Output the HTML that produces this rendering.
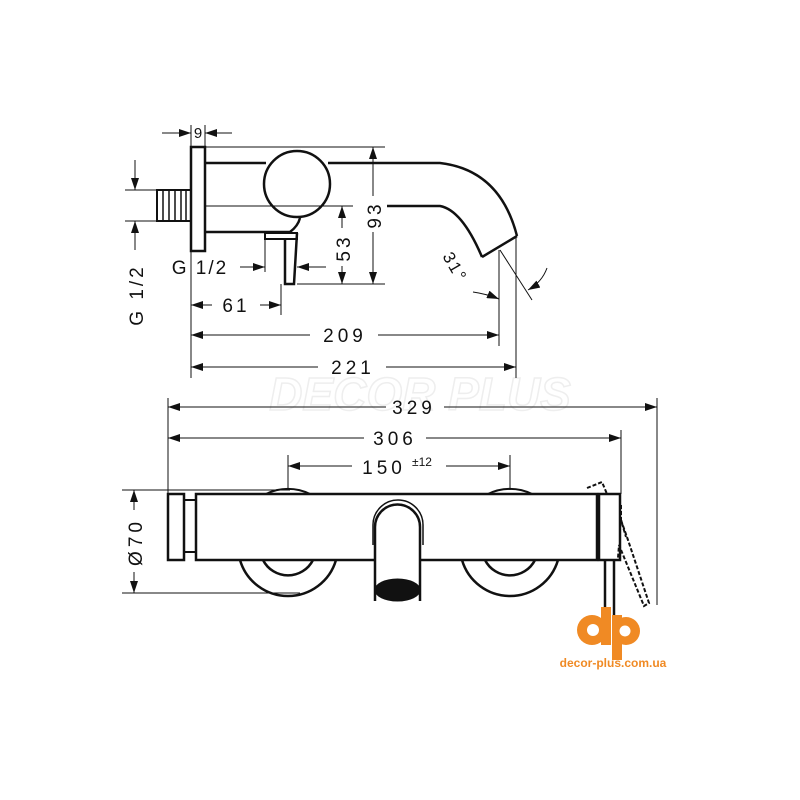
<!DOCTYPE html>
<html><head><meta charset="utf-8"><style>
html,body{margin:0;padding:0;background:#fff;}
svg{display:block;}
text{font-family:"Liberation Sans",sans-serif;fill:#111;}
</style></head><body>
<svg width="800" height="800" viewBox="0 0 800 800" xmlns="http://www.w3.org/2000/svg">
<defs>
<marker id="a" markerWidth="12" markerHeight="8" refX="12" refY="4" orient="auto" markerUnits="userSpaceOnUse"><path d="M0,0 L12,4 L0,8 Z" fill="#111"/></marker>
</defs>
<rect width="800" height="800" fill="#fff"/>
<text x="420" y="410" font-size="46" font-weight="bold" text-anchor="middle" stroke="#eee" stroke-width="1.5" style="fill:none" font-style="italic">DECOR PLUS</text>
<g stroke="#111" fill="none">
<!-- TOP VIEW -->
<rect x="191" y="147" width="14" height="104" stroke-width="2.5"/>
<rect x="157" y="190" width="34" height="31" stroke-width="2"/>
<g stroke-width="1.5"><line x1="163" y1="190" x2="163" y2="221"/><line x1="169" y1="190" x2="169" y2="221"/><line x1="175" y1="190" x2="175" y2="221"/><line x1="181" y1="190" x2="181" y2="221"/><line x1="186" y1="190" x2="186" y2="221"/></g>
<line x1="205" y1="163" x2="266" y2="163" stroke-width="2.5"/>
<path d="M328,163 L440,163 Q500,170 517,236" stroke-width="2.5"/>
<path d="M387,206 L440,206 Q462,210 482,257" stroke-width="2.5"/>
<line x1="482" y1="257" x2="517" y2="236" stroke-width="2.5"/>
<line x1="205" y1="232" x2="290" y2="232" stroke-width="2.5"/>
<line x1="205" y1="206" x2="353" y2="206" stroke-width="1"/>
<circle cx="297" cy="184" r="33" stroke-width="2.5"/>
<path d="M290,232 Q298,226 300,218" stroke-width="2.5"/>
<rect x="265" y="233" width="32" height="6" stroke-width="2"/>
<path d="M285,239 L285,284 L294,284 L297,233" stroke-width="2.5"/>
<line x1="162" y1="133" x2="191" y2="133" stroke-width="1" marker-end="url(#a)"/>
<line x1="232" y1="133" x2="205" y2="133" stroke-width="1" marker-end="url(#a)"/>
<line x1="191" y1="125" x2="191" y2="147" stroke-width="1"/>
<line x1="205" y1="125" x2="205" y2="147" stroke-width="1"/>
<line x1="205" y1="147" x2="385" y2="147" stroke-width="1"/>
<line x1="297" y1="284" x2="385" y2="284" stroke-width="1"/>
<line x1="373" y1="196" x2="373" y2="147" stroke-width="1" marker-end="url(#a)"/>
<line x1="373" y1="232" x2="373" y2="284" stroke-width="1" marker-end="url(#a)"/>
<line x1="342" y1="228" x2="342" y2="206" stroke-width="1" marker-end="url(#a)"/>
<line x1="342" y1="266" x2="342" y2="284" stroke-width="1" marker-end="url(#a)"/>
<line x1="135" y1="160" x2="135" y2="190" stroke-width="1" marker-end="url(#a)"/>
<line x1="135" y1="250" x2="135" y2="221" stroke-width="1" marker-end="url(#a)"/>
<line x1="125" y1="190" x2="157" y2="190" stroke-width="1"/>
<line x1="125" y1="221" x2="157" y2="221" stroke-width="1"/>
<line x1="240" y1="267" x2="265" y2="267" stroke-width="1" marker-end="url(#a)"/>
<line x1="326" y1="267" x2="297" y2="267" stroke-width="1" marker-end="url(#a)"/>
<line x1="265" y1="239" x2="265" y2="272" stroke-width="1"/>
<line x1="191" y1="251" x2="191" y2="378" stroke-width="1"/>
<line x1="281" y1="284" x2="281" y2="315" stroke-width="1"/>
<line x1="499" y1="250" x2="499" y2="346" stroke-width="1"/>
<line x1="516" y1="236" x2="516" y2="378" stroke-width="1"/>
<line x1="212" y1="305" x2="191" y2="305" stroke-width="1" marker-end="url(#a)"/>
<line x1="260" y1="305" x2="281" y2="305" stroke-width="1" marker-end="url(#a)"/>
<line x1="310" y1="335" x2="191" y2="335" stroke-width="1" marker-end="url(#a)"/>
<line x1="378" y1="335" x2="499" y2="335" stroke-width="1" marker-end="url(#a)"/>
<line x1="318" y1="367" x2="191" y2="367" stroke-width="1" marker-end="url(#a)"/>
<line x1="386" y1="367" x2="516" y2="367" stroke-width="1" marker-end="url(#a)"/>
<line x1="500" y1="250" x2="532" y2="300" stroke-width="1"/>
<path d="M473,292 Q487,294 499,299" stroke-width="1" marker-end="url(#a)"/>
<path d="M547,268 Q542,282 528,290" stroke-width="1" marker-end="url(#a)"/>

<!-- BOTTOM VIEW -->
<line x1="168" y1="398" x2="168" y2="494" stroke-width="1"/>
<line x1="657" y1="398" x2="657" y2="605" stroke-width="1"/>
<line x1="621" y1="430" x2="621" y2="494" stroke-width="1"/>
<line x1="288" y1="455" x2="288" y2="490" stroke-width="1"/>
<line x1="510" y1="455" x2="510" y2="490" stroke-width="1"/>
<line x1="386" y1="407" x2="168" y2="407" stroke-width="1" marker-end="url(#a)"/>
<line x1="444" y1="407" x2="657" y2="407" stroke-width="1" marker-end="url(#a)"/>
<line x1="364" y1="438" x2="168" y2="438" stroke-width="1" marker-end="url(#a)"/>
<line x1="426" y1="438" x2="621" y2="438" stroke-width="1" marker-end="url(#a)"/>
<line x1="352" y1="466" x2="288" y2="466" stroke-width="1" marker-end="url(#a)"/>
<line x1="446" y1="466" x2="510" y2="466" stroke-width="1" marker-end="url(#a)"/>
<line x1="122" y1="490" x2="290" y2="490" stroke-width="1"/>
<line x1="122" y1="593" x2="300" y2="593" stroke-width="1"/>
<line x1="134" y1="510" x2="134" y2="490" stroke-width="1" marker-end="url(#a)"/>
<line x1="134" y1="572" x2="134" y2="593" stroke-width="1" marker-end="url(#a)"/>
<path d="M266,494 A50,50 0 0 1 310,494" stroke-width="2"/>
<path d="M488,494 A50,50 0 0 1 532,494" stroke-width="2"/>
<path d="M240,560 A50,50 0 0 0 336,560" stroke-width="2.5"/>
<path d="M462,560 A50,50 0 0 0 558,560" stroke-width="2.5"/>
<path d="M263,560 A28,28 0 0 0 313,560" stroke-width="2.5"/>
<path d="M485,560 A28,28 0 0 0 535,560" stroke-width="2.5"/>
<rect x="168" y="494" width="16" height="66" stroke-width="2.5" fill="#fff"/>
<rect x="184" y="500" width="12" height="52" stroke-width="2"/>
<rect x="196" y="494" width="401" height="66" stroke-width="2.5" fill="#fff"/>
<rect x="599" y="494" width="21" height="66" stroke-width="2.5"/>
<path d="M375,601 L375,527 A22.5,22.5 0 0 1 420,527 L420,601" stroke-width="2.5" fill="#fff"/>
<path d="M373,545 L373,525 A25,25 0 0 1 423,525 L423,545" stroke-width="1.5"/>
<ellipse cx="397.5" cy="590" rx="22.5" ry="11" fill="#111" stroke-width="1"/>
<line x1="605" y1="560" x2="605" y2="616" stroke-width="2.5"/>
<line x1="614" y1="560" x2="614" y2="616" stroke-width="2.5"/>
<path d="M587,488 L602,482 L607,494" stroke-width="2" stroke-dasharray="4,2"/>
<path d="M621,520 L628,540 L649,603 L644,606 L619,545 L618,558" stroke-width="2" stroke-dasharray="4,2"/>
<path d="M621,505 L621,520 L626,537" stroke-width="2" stroke-dasharray="4,2"/>
</g>
<text x="198" y="138" font-size="15" text-anchor="middle">9</text>
<text x="236" y="312" font-size="19" text-anchor="middle" letter-spacing="3">61</text>
<text x="345" y="342" font-size="19" text-anchor="middle" letter-spacing="4">209</text>
<text x="353" y="374" font-size="19" text-anchor="middle" letter-spacing="4">221</text>
<text x="200" y="274" font-size="19" text-anchor="middle" letter-spacing="2">G 1/2</text>
<text transform="translate(381,215) rotate(-90)" font-size="19" text-anchor="middle" letter-spacing="3">93</text>
<text transform="translate(350,248) rotate(-90)" font-size="19" text-anchor="middle" letter-spacing="3">53</text>
<text transform="translate(143,295) rotate(-90)" font-size="19" text-anchor="middle" letter-spacing="3">G 1/2</text>
<text transform="translate(450,270) rotate(60)" font-size="17" text-anchor="middle" letter-spacing="2">31°</text>
<text x="414" y="414" font-size="19" text-anchor="middle" letter-spacing="4">329</text>
<text x="395" y="445" font-size="19" text-anchor="middle" letter-spacing="4">306</text>
<text x="384" y="474" font-size="19" text-anchor="middle" letter-spacing="4">150</text>
<text x="412" y="466" font-size="12">±12</text>
<text transform="translate(142,542) rotate(-90)" font-size="19" text-anchor="middle" letter-spacing="4">Ø70</text>
<g fill="#f08a24">
<circle cx="592" cy="630" r="15"/>
<rect x="601" y="607" width="10" height="38"/>
<circle cx="626" cy="631" r="14"/>
<rect x="612" y="615" width="10" height="45"/>
</g>
<circle cx="593" cy="630" r="6" fill="#fff"/>
<circle cx="625" cy="631" r="5.5" fill="#fff"/>
<text x="613" y="667" font-size="12" font-weight="bold" text-anchor="middle" style="fill:#f08a24">decor-plus.com.ua</text>
</svg>
</body></html>
